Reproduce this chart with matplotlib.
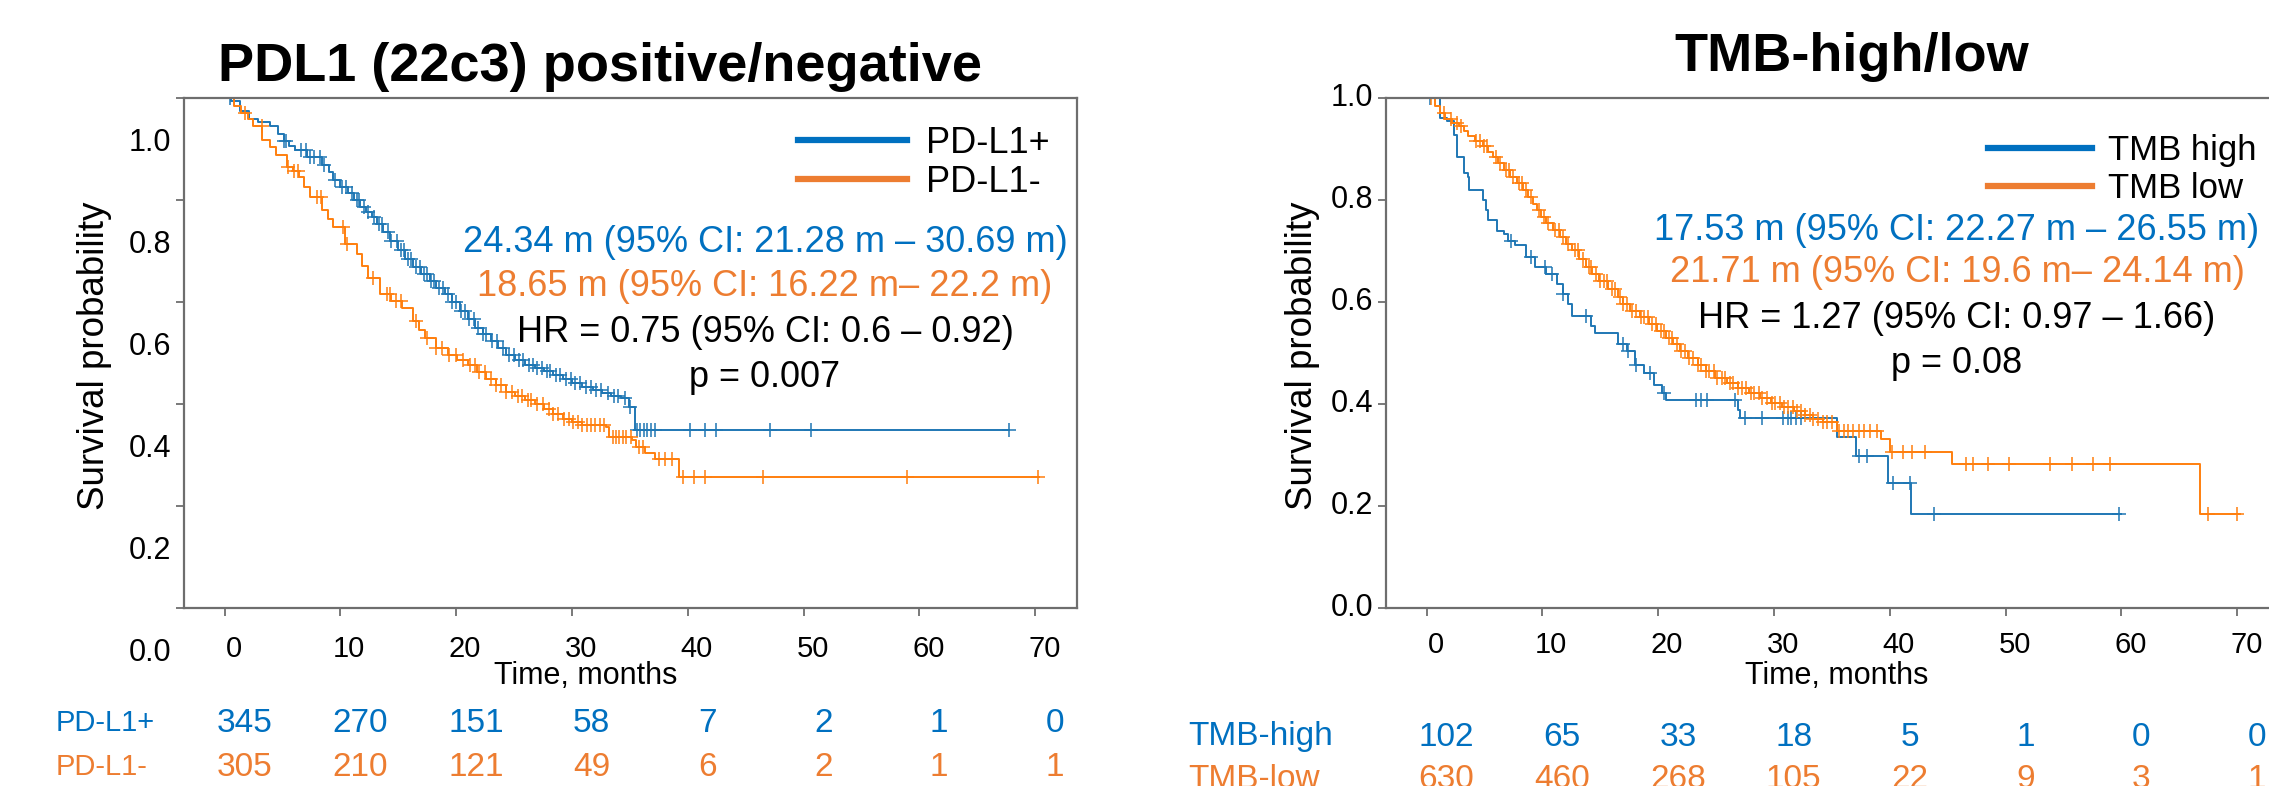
import numpy as np
import matplotlib
matplotlib.use('Agg')
import matplotlib.pyplot as plt
from matplotlib.lines import Line2D
from matplotlib.transforms import ScaledTranslation, blended_transform_factory

plt.rcParams['font.family'] = ['Liberation Sans', 'DejaVu Sans']

W, H = 2269, 786
BLUE_TXT, ORANGE_TXT = '#0070C0', '#ED7D31'
BLUE, ORANGE = '#1f77b4', '#ff7f0e'
SPINE = '#6e6e6e'

# ---------------- PD-L1 panel ----------------
pdl1_pos_t = [0, 0.6, 1.3, 2.1, 2.9, 3.9, 4.6, 5.1, 5.6, 6.1, 7.1, 8.4, 9.0, 9.4, 10.0,
              10.7, 11.2, 11.7, 12.2, 12.7, 13.2, 13.7, 14.3, 15.0, 15.6, 16.3, 17.0, 17.7,
              18.3, 19.0, 19.6, 20.3, 21.0, 21.6, 22.3, 23.0, 23.6, 24.3, 25.1, 25.9, 26.8,
              27.6, 28.4, 29.2, 30.0, 30.9, 31.8, 32.6, 33.4, 34.2, 34.9, 35.4]
pdl1_pos_s = [1.0, 0.994, 0.975, 0.958, 0.952, 0.945, 0.930, 0.915, 0.906, 0.898, 0.885,
              0.869, 0.855, 0.839, 0.826, 0.813, 0.800, 0.787, 0.777, 0.767, 0.752, 0.737,
              0.720, 0.701, 0.685, 0.668, 0.655, 0.642, 0.628, 0.615, 0.600, 0.583, 0.567,
              0.550, 0.537, 0.523, 0.510, 0.497, 0.487, 0.477, 0.470, 0.464, 0.457, 0.450,
              0.442, 0.434, 0.428, 0.421, 0.416, 0.411, 0.394, 0.350]
pdl1_pos_end = 67.7
pdl1_pos_cens = [0.5, 5.1, 5.3, 6.6, 7.0, 7.4, 7.7, 8.2, 8.6, 9.5, 10.1, 10.5, 11.0, 11.4,
                 11.6, 12.0, 12.4, 12.9, 13.3, 13.6, 14.1, 14.4, 14.9, 15.2, 15.5, 15.8, 16.1,
                 16.5, 16.9, 17.2, 17.5, 17.8, 18.1, 18.5, 18.9, 19.3, 19.6, 20.0, 20.4, 20.8,
                 21.1, 21.5, 21.9, 22.3, 22.6, 23.1, 23.5, 24.0, 24.6, 25.0, 25.4, 25.8, 26.3,
                 26.6, 27.0, 27.4, 27.8, 28.1, 28.6, 29.0, 29.5, 29.9, 30.3, 30.7, 31.2, 31.6,
                 32.1, 32.5, 33.1, 33.6, 34.0, 34.6, 35.0, 35.6, 35.9, 36.2, 36.5, 36.8, 37.2,
                 40.2, 41.5, 42.4, 47.1, 50.6, 67.7]

pdl1_neg_t = [0, 0.8, 1.45, 2.0, 2.44, 3.27, 3.9, 4.43, 5.42, 5.9, 6.4, 6.9, 7.4, 8.4, 8.9,
              9.4, 10.4, 11.4, 11.9, 12.4, 13.4, 14.4, 15.35, 16.3, 16.8, 17.3, 18.3, 19.3,
              20.1, 21.0, 21.8, 22.6, 23.4, 24.3, 25.1, 25.9, 26.8, 27.6, 28.4, 29.2, 30.0,
              30.9, 32.9, 33.2, 35.2, 35.5, 36.3, 37.2, 39.2]
pdl1_neg_s = [1.0, 0.985, 0.971, 0.958, 0.945, 0.918, 0.903, 0.888, 0.865, 0.856, 0.846,
              0.826, 0.806, 0.780, 0.763, 0.747, 0.714, 0.694, 0.671, 0.648, 0.615, 0.602,
              0.589, 0.562, 0.546, 0.530, 0.510, 0.497, 0.487, 0.477, 0.463, 0.450, 0.437,
              0.424, 0.416, 0.408, 0.400, 0.391, 0.381, 0.371, 0.364, 0.358, 0.355, 0.335,
              0.329, 0.315, 0.303, 0.292, 0.256]
pdl1_neg_end = 70.3
pdl1_neg_cens = [1.8, 3.2, 5.5, 6.0, 6.3, 8.0, 8.3, 10.2, 10.6, 12.8, 14.0, 14.3, 14.8, 15.2,
                 16.5, 17.5, 18.3, 18.8, 19.4, 20.0, 20.6, 21.2, 21.6, 22.0, 22.5, 23.0, 23.4,
                 23.9, 24.3, 24.8, 25.3, 25.7, 26.2, 26.5, 27.0, 27.5, 28.0, 28.4, 28.8, 29.3,
                 29.7, 30.1, 30.5, 30.9, 31.3, 31.6, 32.0, 32.4, 32.8, 33.5, 33.8, 34.1, 34.4,
                 34.7, 35.1, 35.8, 36.1, 37.5, 38.0, 38.6, 39.6, 40.5, 41.5, 46.5, 58.9, 70.2]

pdl1_texts = ['24.34 m (95% CI: 21.28 m \u2013 30.69 m)',
              '18.65 m (95% CI: 16.22 m\u2013 22.2 m)',
              'HR = 0.75 (95% CI: 0.6 \u2013 0.92)',
              'p = 0.007']
pdl1_labels = ['PD-L1+', 'PD-L1-']
pdl1_pos_risk = [345, 270, 151, 58, 7, 2, 1, 0]
pdl1_neg_risk = [305, 210, 121, 49, 6, 2, 1, 1]

# ---------------- TMB panel ----------------
tmb_high_t = [0, 1.2, 1.8, 2.4, 2.6, 3.2, 3.6, 3.7, 4.9, 5.1, 5.3, 6.1, 6.65, 7.0, 7.6, 8.6,
              9.35, 10.3, 11.3, 11.8, 12.2, 12.6, 14.2, 14.55, 16.5, 17.3, 18.0, 18.8, 19.6,
              20.3, 20.7, 26.9, 27.1, 35.4, 37.1, 39.8, 41.85]
tmb_high_s = [1.0, 0.961, 0.955, 0.928, 0.885, 0.852, 0.846, 0.820, 0.800, 0.780, 0.760,
              0.740, 0.734, 0.720, 0.711, 0.688, 0.668, 0.655, 0.635, 0.615, 0.596, 0.573,
              0.553, 0.540, 0.517, 0.504, 0.477, 0.460, 0.437, 0.421, 0.408, 0.388, 0.372,
              0.336, 0.298, 0.246, 0.185]
tmb_high_end = 60.0
tmb_high_cens = [0.3, 7.3, 9.0, 10.2, 10.8, 11.8, 13.8, 17.0, 17.4, 18.1, 19.3, 20.5, 23.3,
                 23.7, 24.2, 26.6, 27.5, 29.0, 30.8, 31.2, 31.5, 31.9, 32.3, 37.3, 38.0, 40.3,
                 41.7, 43.8, 59.8]

tmb_low_t = [0, 0.7, 1.2, 1.6, 2.2, 2.8, 3.2, 3.6, 4.2, 4.9, 5.3, 5.7, 6.2, 6.7, 7.2, 7.8,
             8.3, 8.8, 9.2, 9.5, 9.9, 10.3, 10.9, 11.5, 12.0, 12.6, 13.2, 13.8, 14.3, 14.9,
             15.7, 16.5, 17.0, 17.6, 18.4, 19.2, 19.9, 20.7, 21.3, 21.9, 22.6, 23.4, 24.1,
             24.9, 25.9, 26.9, 27.8, 28.8, 29.7, 30.7, 31.7, 32.7, 33.4, 34.2, 35.4, 39.2,
             40.0, 45.4, 66.8]
tmb_low_s = [1.0, 0.985, 0.970, 0.958, 0.951, 0.945, 0.935, 0.925, 0.915, 0.905, 0.895,
             0.885, 0.872, 0.859, 0.846, 0.833, 0.820, 0.806, 0.793, 0.780, 0.767, 0.754,
             0.741, 0.727, 0.714, 0.701, 0.685, 0.668, 0.655, 0.642, 0.625, 0.609, 0.596,
             0.583, 0.570, 0.556, 0.543, 0.530, 0.517, 0.504, 0.491, 0.477, 0.464, 0.451,
             0.441, 0.431, 0.421, 0.411, 0.402, 0.394, 0.386, 0.378, 0.371, 0.365, 0.348,
             0.332, 0.306, 0.282, 0.185]
tmb_low_end = 70.2
tmb_low_cens = [0.4, 1.5, 2.1, 2.6, 3.0, 4.3, 4.6, 5.0, 5.2, 6.0, 6.3, 6.9, 7.1, 7.5, 8.0,
                8.2, 8.6, 9.0, 9.7, 10.1, 10.5, 11.1, 11.4, 11.8, 12.2, 12.8, 13.1, 13.5,
                14.0, 14.2, 14.6, 15.0, 15.3, 15.6, 16.0, 16.3, 16.7, 17.0, 17.3, 17.7, 18.1,
                18.5, 18.8, 19.1, 19.5, 19.8, 20.2, 20.5, 20.9, 21.2, 21.6, 22.0, 22.3, 22.7,
                23.0, 23.4, 23.7, 24.1, 24.4, 24.8, 25.1, 25.5, 25.8, 26.2, 26.5, 26.9, 27.2,
                27.6, 28.0, 28.3, 28.7, 29.0, 29.4, 29.8, 30.1, 30.5, 30.9, 31.2, 31.6, 32.0,
                32.3, 32.7, 33.1, 33.4, 33.8, 34.2, 34.6, 35.0, 35.6, 36.0, 36.4, 36.8, 37.3,
                37.8, 38.3, 38.9, 40.2, 41.1, 41.9, 43.0, 46.6, 47.2, 48.5, 50.3, 53.8, 55.7,
                57.5, 59.0, 67.5, 70.0]

tmb_texts = ['17.53 m (95% CI: 22.27 m \u2013 26.55 m)',
             '21.71 m (95% CI: 19.6 m\u2013 24.14 m)',
             'HR = 1.27 (95% CI: 0.97 \u2013 1.66)',
             'p = 0.08']
tmb_labels = ['TMB high', 'TMB low']
tmb_risk_labels = ['TMB-high', 'TMB-low']
tmb_high_risk = [102, 65, 33, 18, 5, 1, 0, 0]
tmb_low_risk = [630, 460, 268, 105, 22, 9, 3, 1]

risk_months = [0, 10, 20, 30, 40, 50, 60, 70]
y_ticks = [0.0, 0.2, 0.4, 0.6, 0.8, 1.0]

fig = plt.figure(figsize=(W / 100, H / 100), dpi=100)


def fx(x):
    return x / W


def fy(y):
    return 1 - y / H


def shift(dx, dy):
    # pixel offset (dy positive = down)
    return ScaledTranslation(dx / 100, -dy / 100, fig.dpi_scale_trans)


def km(ax, t, s, t_end, cens, color):
    t = np.asarray(t)
    s = np.asarray(s)
    ax.step(np.append(t, t_end), np.append(s, s[-1]), where='post', color=color, lw=1.4)
    cens = np.asarray(cens)
    idx = np.searchsorted(t, cens, side='right') - 1
    ax.plot(cens, s[idx], ls='none', marker='+', ms=10, mew=1.1, color=color)


def setup_axes(left_px, ylab_shift, xlab_dy):
    ax = fig.add_axes([fx(left_px), fy(608), 893 / W, 510 / H])
    ax.set_xlim(-3.5, 73.6)
    ax.set_ylim(0, 1.0)
    ax.set_xticks(risk_months)
    ax.set_yticks(y_ticks)
    ax.tick_params(direction='out', length=6, width=1.3, color=SPINE,
                   labelbottom=False, labelleft=False)
    for sp in ax.spines.values():
        sp.set_color(SPINE)
        sp.set_linewidth(1.6)
    xt = blended_transform_factory(ax.transData, ax.transAxes)
    for m in risk_months:
        ax.text(m, 0, str(m), transform=xt + shift(9, xlab_dy), ha='center', va='center',
                fontsize=21)
    yt = blended_transform_factory(ax.transAxes, ax.transData)
    for v in y_ticks:
        ax.text(0, v, f'{v:.1f}', transform=yt + shift(-13, ylab_shift), ha='right',
                va='center', fontsize=22)
    return ax


# left panel
ax1 = setup_axes(184, 45, 41)
km(ax1, pdl1_pos_t, pdl1_pos_s, pdl1_pos_end, pdl1_pos_cens, BLUE)
km(ax1, pdl1_neg_t, pdl1_neg_s, pdl1_neg_end, pdl1_neg_cens, ORANGE)

# right panel
ax2 = setup_axes(1386, 0, 37)
km(ax2, tmb_high_t, tmb_high_s, tmb_high_end, tmb_high_cens, BLUE)
km(ax2, tmb_low_t, tmb_low_s, tmb_low_end, tmb_low_cens, ORANGE)

# titles
fig.text(fx(600), fy(81), 'PDL1 (22c3) positive/negative', ha='center', va='baseline',
         fontsize=39, fontweight='bold')
fig.text(fx(1852), fy(71), 'TMB-high/low', ha='center', va='baseline',
         fontsize=39, fontweight='bold')

# y labels
fig.text(fx(94), fy(356), 'Survival probability', rotation=90, ha='center', va='center',
         fontsize=26.5)
fig.text(fx(1302), fy(356), 'Survival probability', rotation=90, ha='center', va='center',
         fontsize=26.5)

# x labels
for ax, tc in ((ax1, 31.2), (ax2, 35.4)):
    bt = blended_transform_factory(ax.transData, fig.transFigure)
    ax.text(tc, fy(676), 'Time, months', transform=bt, ha='center', va='center',
            fontsize=22)

# legends
handles = [Line2D([], [], color=BLUE_TXT, lw=4.5), Line2D([], [], color=ORANGE_TXT, lw=4.5)]
fig.legend(handles, pdl1_labels, loc='upper right', bbox_to_anchor=(fx(1050), fy(126)),
           frameon=False, fontsize=26, handlelength=3.0, handletextpad=0.55,
           labelspacing=0.1, borderpad=0, borderaxespad=0)
fig.legend(handles, tmb_labels, loc='upper right', bbox_to_anchor=(fx(2256), fy(134)),
           frameon=False, fontsize=25, handlelength=3.0, handletextpad=0.45,
           labelspacing=0.15, borderpad=0, borderaxespad=0)

# median / HR annotations
colors = [BLUE_TXT, ORANGE_TXT, 'black', 'black']
for txt, c, y in zip(pdl1_texts, colors, [243, 287, 333, 377]):
    fig.text(fx(765), fy(y), txt, ha='center', va='center', fontsize=26, color=c)
for txt, c, y in zip(tmb_texts, colors, [230, 273, 318, 363]):
    fig.text(fx(1957), fy(y), txt, ha='center', va='center', fontsize=26, color=c)

# number-at-risk tables
for ax, labels, rows, ys, lab_x, lab_fs in (
        (ax1, pdl1_labels, (pdl1_pos_risk, pdl1_neg_risk), (723, 767), 56, 21),
        (ax2, tmb_risk_labels, (tmb_high_risk, tmb_low_risk), (737, 780), 1188, 24)):
    bt = blended_transform_factory(ax.transData, fig.transFigure)
    for lab, row, y, c in zip(labels, rows, ys, (BLUE_TXT, ORANGE_TXT)):
        fig.text(fx(lab_x), fy(y), lab, ha='left', va='center', fontsize=lab_fs, color=c)
        for m, n in zip(risk_months, row):
            ax.text(m + 1.7, fy(y), str(n), transform=bt, ha='center', va='center',
                    fontsize=24, color=c, clip_on=False)

fig.savefig('out.png', dpi=100)
